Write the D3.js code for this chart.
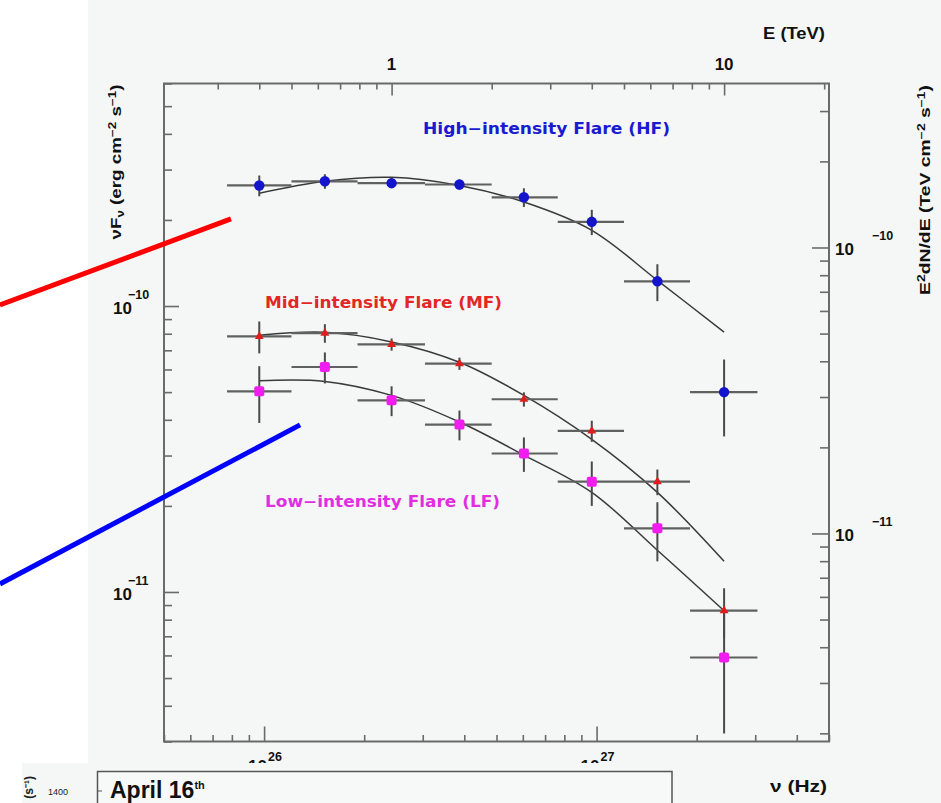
<!DOCTYPE html>
<html>
<head>
<meta charset="utf-8">
<script src="https://cdn.jsdelivr.net/npm/d3@7"></script>
<style>
  html, body { margin: 0; padding: 0; background: #ffffff; }
  svg { display: block; }
</style>
</head>
<body>
<svg id="chart" width="941" height="803"></svg>
<script>
// ---- spectral bins (TeV): centres and edges ----
const energyTeV  = [0.40, 0.63, 1.0, 1.6, 2.5, 4.0, 6.3, 10.0];
const binLowTeV  = [0.32, 0.50, 0.79, 1.26, 2.0, 3.16, 5.0, 7.9];
const binHighTeV = [0.50, 0.79, 1.26, 2.0, 3.16, 5.0, 7.9, 12.6];

// ---- nuFnu (erg cm^-2 s^-1) with 1-sigma errors, one pair per flare state ----
const hfFlux = [2.64e-10, 2.73e-10, 2.69e-10, 2.66e-10, 2.40e-10, 1.97e-10, 1.22e-10, 5.0e-11];
const hfErr  = [0.22e-10, 0.16e-10, 0.11e-10, 0.11e-10, 0.18e-10, 0.20e-10, 0.18e-10, 1.5e-11];
const mfFlux = [7.83e-11, 8.04e-11, 7.34e-11, 6.29e-11, 4.72e-11, 3.66e-11, 2.43e-11, 8.6e-12];
const mfErr  = [1.0e-11, 0.6e-11, 0.36e-11, 0.31e-11, 0.27e-11, 0.31e-11, 0.25e-11, 0.17e-11];
const lfFlux = [5.03e-11, 6.12e-11, 4.68e-11, 3.85e-11, 3.05e-11, 2.43e-11, 1.67e-11, 5.9e-12];
const lfErr  = [1.13e-11, 0.76e-11, 0.56e-11, 0.46e-11, 0.42e-11, 0.43e-11, 0.39e-11, 0.27e-11];

// ---- curved-spectrum fits, sampled at the bin energies ----
const hfModel = [2.48e-10, 2.73e-10, 2.82e-10, 2.64e-10, 2.31e-10, 1.84e-10, 1.23e-10, 8.1e-11];
const mfModel = [7.90e-11, 8.09e-11, 7.49e-11, 6.36e-11, 4.87e-11, 3.42e-11, 2.23e-11, 1.28e-11];
const lfModel = [5.48e-11, 5.45e-11, 4.87e-11, 3.93e-11, 3.01e-11, 2.23e-11, 1.40e-11, 8.6e-12];

// ---- axis ranges and labels ----
const nuDomainHz   = [5e25, 5e27];
const fluxDomain   = [3e-12, 6e-10];
const HZ_PER_TEV   = 2.418e26;   // E = h nu
const ERG_PER_TEV  = 1.602;
const stateLabels  = ["High\u2212intensity Flare (HF)", "Mid\u2212intensity Flare (MF)", "Low\u2212intensity Flare (LF)"];

// ---- pointer strokes (nu in Hz, nuFnu) ----
const pointerRed  = [[1.605e25, 1.008e-10], [7.95e25, 2.016e-10]];
const pointerBlue = [[1.605e25, 1.067e-11], [1.283e26, 3.84e-11]];

// ---------------------------------------------------------------
const svg = d3.select("#chart");
const L = 164, R = 829, T = 83.5, B = 741.5;
const BG = "#f4f7f5";
const AXIS = "#6a6a6a";
const TICKFONT = "'Liberation Sans', Arial, sans-serif";
const LABELFONT = "'DejaVu Sans', Verdana, sans-serif";

const x  = d3.scaleLog().domain(nuDomainHz).range([L, R]);
const xE = d3.scaleLog().domain(nuDomainHz.map(v => v / HZ_PER_TEV)).range([L, R]);
const y  = d3.scaleLog().domain(fluxDomain).range([B, T]);
const yR = d3.scaleLog().domain(fluxDomain.map(v => v / ERG_PER_TEV)).range([B, T]);

const isDecade = v => Math.abs(Math.log10(v) - Math.round(Math.log10(v))) < 1e-6;

// backgrounds
svg.append("rect").attr("x", 88).attr("y", 0).attr("width", 853).attr("height", 803).attr("fill", BG);

// ---- axes (ticks point into the frame) ----
function styleAxis(g, majorLen, minorLen, sign, vertical) {
  g.select(".domain").remove();
  g.selectAll(".tick text").remove();
  g.selectAll(".tick line")
    .attr("stroke", AXIS).attr("stroke-width", 1.6)
    .each(function(d) {
      const len = (isDecade(d) ? majorLen : minorLen) * sign;
      d3.select(this).attr(vertical ? "x2" : "y2", len);
    });
}

const gBottom = svg.append("g").attr("transform", `translate(0,${B})`)
  .call(d3.axisTop(x).tickSizeOuter(0));
styleAxis(gBottom, 15, 6.5, -1, false);

const gTop = svg.append("g").attr("transform", `translate(0,${T})`)
  .call(d3.axisBottom(xE).tickSizeOuter(0));
styleAxis(gTop, 12, 6, 1, false);

const gLeft = svg.append("g").attr("transform", `translate(${L},0)`)
  .call(d3.axisRight(y).tickSizeOuter(0));
styleAxis(gLeft, 15, 8, 1, true);

const gRight = svg.append("g").attr("transform", `translate(${R},0)`)
  .call(d3.axisLeft(yR).tickSizeOuter(0));
styleAxis(gRight, 17, 9, -1, true);

// frame
svg.append("rect").attr("x", L).attr("y", T).attr("width", R - L).attr("height", B - T)
  .attr("fill", "none").attr("stroke", AXIS).attr("stroke-width", 2);

// ---- tick labels ----
const tl = svg.append("g").attr("font-family", TICKFONT).attr("font-weight", "bold").attr("fill", "#111");
function power(xb, yb, xe, ye, exp) {
  tl.append("text").attr("x", xb).attr("y", yb).attr("font-size", 17).text("10");
  tl.append("text").attr("x", xe).attr("y", ye).attr("font-size", 12.5).text(exp);
}
y.ticks().filter(isDecade).forEach(v => {
  const e = Math.round(Math.log10(v));
  power(113, y(v) + 8, 128, y(v) - 7, String(e).replace("-", "\u2212"));
});
yR.ticks().filter(isDecade).forEach(v => {
  const e = Math.round(Math.log10(v));
  power(835, yR(v) + 8, 872, yR(v) - 7, String(e).replace("-", "\u2212"));
});
x.ticks().filter(isDecade).forEach(v => {
  const e = Math.round(Math.log10(v));
  power(x(v) - 16, 772, x(v) + 4, 761, String(e));
});
xE.ticks().filter(isDecade).forEach(v => {
  tl.append("text").attr("x", xE(v)).attr("y", 70).attr("font-size", 17)
    .attr("text-anchor", "middle").text(d3.format("~g")(v));
});

// ---- axis titles ----
const titles = svg.append("g").attr("font-family", TICKFONT).attr("font-weight", "bold").attr("fill", "#111");
titles.append("text").attr("x", 763).attr("y", 39).attr("font-size", 16)
  .attr("textLength", 62).attr("lengthAdjust", "spacingAndGlyphs").text("E (TeV)");

const lt = titles.append("text").attr("transform", "translate(121,162) rotate(-90)")
  .attr("text-anchor", "middle").attr("font-size", 14)
  .attr("textLength", 155).attr("lengthAdjust", "spacingAndGlyphs");
lt.append("tspan").text("\u03bdF");
lt.append("tspan").attr("dy", 3).attr("font-size", 10).text("\u03bd");
lt.append("tspan").attr("dy", -3).text(" (erg cm");
lt.append("tspan").attr("dy", -5).attr("font-size", 10).text("\u22122");
lt.append("tspan").attr("dy", 5).text(" s");
lt.append("tspan").attr("dy", -5).attr("font-size", 10).text("\u22121");
lt.append("tspan").attr("dy", 5).text(")");

const rt = titles.append("text").attr("transform", "translate(930,190) rotate(-90)")
  .attr("text-anchor", "middle").attr("font-size", 14)
  .attr("textLength", 210).attr("lengthAdjust", "spacingAndGlyphs");
rt.append("tspan").text("E");
rt.append("tspan").attr("dy", -5).attr("font-size", 10).text("2");
rt.append("tspan").attr("dy", 5).text("dN/dE (TeV cm");
rt.append("tspan").attr("dy", -5).attr("font-size", 10).text("\u22122");
rt.append("tspan").attr("dy", 5).text(" s");
rt.append("tspan").attr("dy", -5).attr("font-size", 10).text("\u22121");
rt.append("tspan").attr("dy", 5).text(")");

// ---- spectra ----
const series = [
  { flux: hfFlux, err: hfErr, model: hfModel, color: "#1414cc", marker: "circle" },
  { flux: mfFlux, err: mfErr, model: mfModel, color: "#e01c1c", marker: "triangle" },
  { flux: lfFlux, err: lfErr, model: lfModel, color: "#f01cf0", marker: "square" }
];

const line = d3.line().x(d => xE(d[0])).y(d => y(d[1])).curve(d3.curveCatmullRom.alpha(0.5));
const gPlot = svg.append("g");

series.forEach(s => {
  gPlot.append("path")
    .attr("d", line(energyTeV.map((e, i) => [e, s.model[i]])))
    .attr("fill", "none").attr("stroke", "#3a3a3a").attr("stroke-width", 1.5);
});

series.forEach(s => {
  const g = gPlot.append("g");
  energyTeV.forEach((e, i) => {
    const f = s.flux[i], df = s.err[i];
    g.append("line")
      .attr("x1", xE(binLowTeV[i])).attr("x2", xE(binHighTeV[i]))
      .attr("y1", y(f)).attr("y2", y(f))
      .attr("stroke", "#606060").attr("stroke-width", 2.2);
    g.append("line")
      .attr("x1", xE(e)).attr("x2", xE(e))
      .attr("y1", y(Math.max(f - df, fluxDomain[0]))).attr("y2", y(f + df))
      .attr("stroke", "#4a4a4a").attr("stroke-width", 2);
  });
});

series.forEach(s => {
  const g = gPlot.append("g").attr("fill", s.color);
  energyTeV.forEach((e, i) => {
    const cx = xE(e), cy = y(s.flux[i]);
    if (s.marker === "circle") {
      g.append("circle").attr("cx", cx).attr("cy", cy).attr("r", 5.2);
    } else if (s.marker === "square") {
      g.append("rect").attr("x", cx - 5).attr("y", cy - 5).attr("width", 10).attr("height", 10).attr("rx", 2);
    } else {
      g.append("path").attr("transform", `translate(${cx},${cy})`)
        .attr("d", d3.symbol(d3.symbolTriangle, 34)());
    }
  });
});

// ---- state labels ----
const lbl = svg.append("g").attr("font-family", LABELFONT).attr("font-weight", "bold").attr("font-size", 15);
lbl.append("text").attr("x", 423).attr("y", 134).attr("fill", "#1a1ad0")
  .attr("textLength", 247).attr("lengthAdjust", "spacingAndGlyphs").text(stateLabels[0]);
lbl.append("text").attr("x", 265).attr("y", 308).attr("fill", "#e32626")
  .attr("textLength", 237).attr("lengthAdjust", "spacingAndGlyphs").text(stateLabels[1]);
lbl.append("text").attr("x", 265).attr("y", 507).attr("fill", "#e02ee0")
  .attr("textLength", 235).attr("lengthAdjust", "spacingAndGlyphs").text(stateLabels[2]);

// ---- pointer strokes ----
const pLine = d3.line().x(d => x(d[0])).y(d => y(d[1]));
svg.append("path").attr("d", pLine(pointerRed)).attr("stroke", "#ff0000").attr("stroke-width", 5).attr("fill", "none");
svg.append("path").attr("d", pLine(pointerBlue)).attr("stroke", "#0000ff").attr("stroke-width", 5).attr("fill", "none");

// ---- light-curve panel below ----
const strip = svg.append("g");
strip.append("rect").attr("x", 22).attr("y", 763).attr("width", 654).attr("height", 40).attr("fill", "#f5f7f6");
strip.append("rect").attr("x", 97.5).attr("y", 771.5).attr("width", 574.5).attr("height", 40)
  .attr("fill", "#f7f9f8").attr("stroke", "#555").attr("stroke-width", 1.5);
strip.append("line").attr("x1", 97.5).attr("x2", 102).attr("y1", 791).attr("y2", 791).attr("stroke", "#555");
const apr = strip.append("text").attr("x", 110).attr("y", 798).attr("font-family", TICKFONT)
  .attr("font-weight", "bold").attr("font-size", 23).attr("fill", "#111");
apr.append("tspan").text("April 16");
apr.append("tspan").attr("dy", -9).attr("font-size", 11).text("th");
strip.append("text").attr("x", 48).attr("y", 795).attr("font-family", TICKFONT)
  .attr("font-size", 9).attr("fill", "#222").text("1400");
strip.append("text").attr("transform", "translate(33,776) rotate(-90)").attr("text-anchor", "end")
  .attr("font-family", TICKFONT).attr("font-weight", "bold").attr("font-size", 12).attr("fill", "#222")
  .text("(s\u207b\u00b9)");

// frequency axis title
svg.append("text").attr("x", 770).attr("y", 792).attr("font-family", TICKFONT).attr("font-weight", "bold")
  .attr("font-size", 16).attr("fill", "#111").attr("textLength", 57).attr("lengthAdjust", "spacingAndGlyphs")
  .text("\u03bd (Hz)");
</script>
</body>
</html>
